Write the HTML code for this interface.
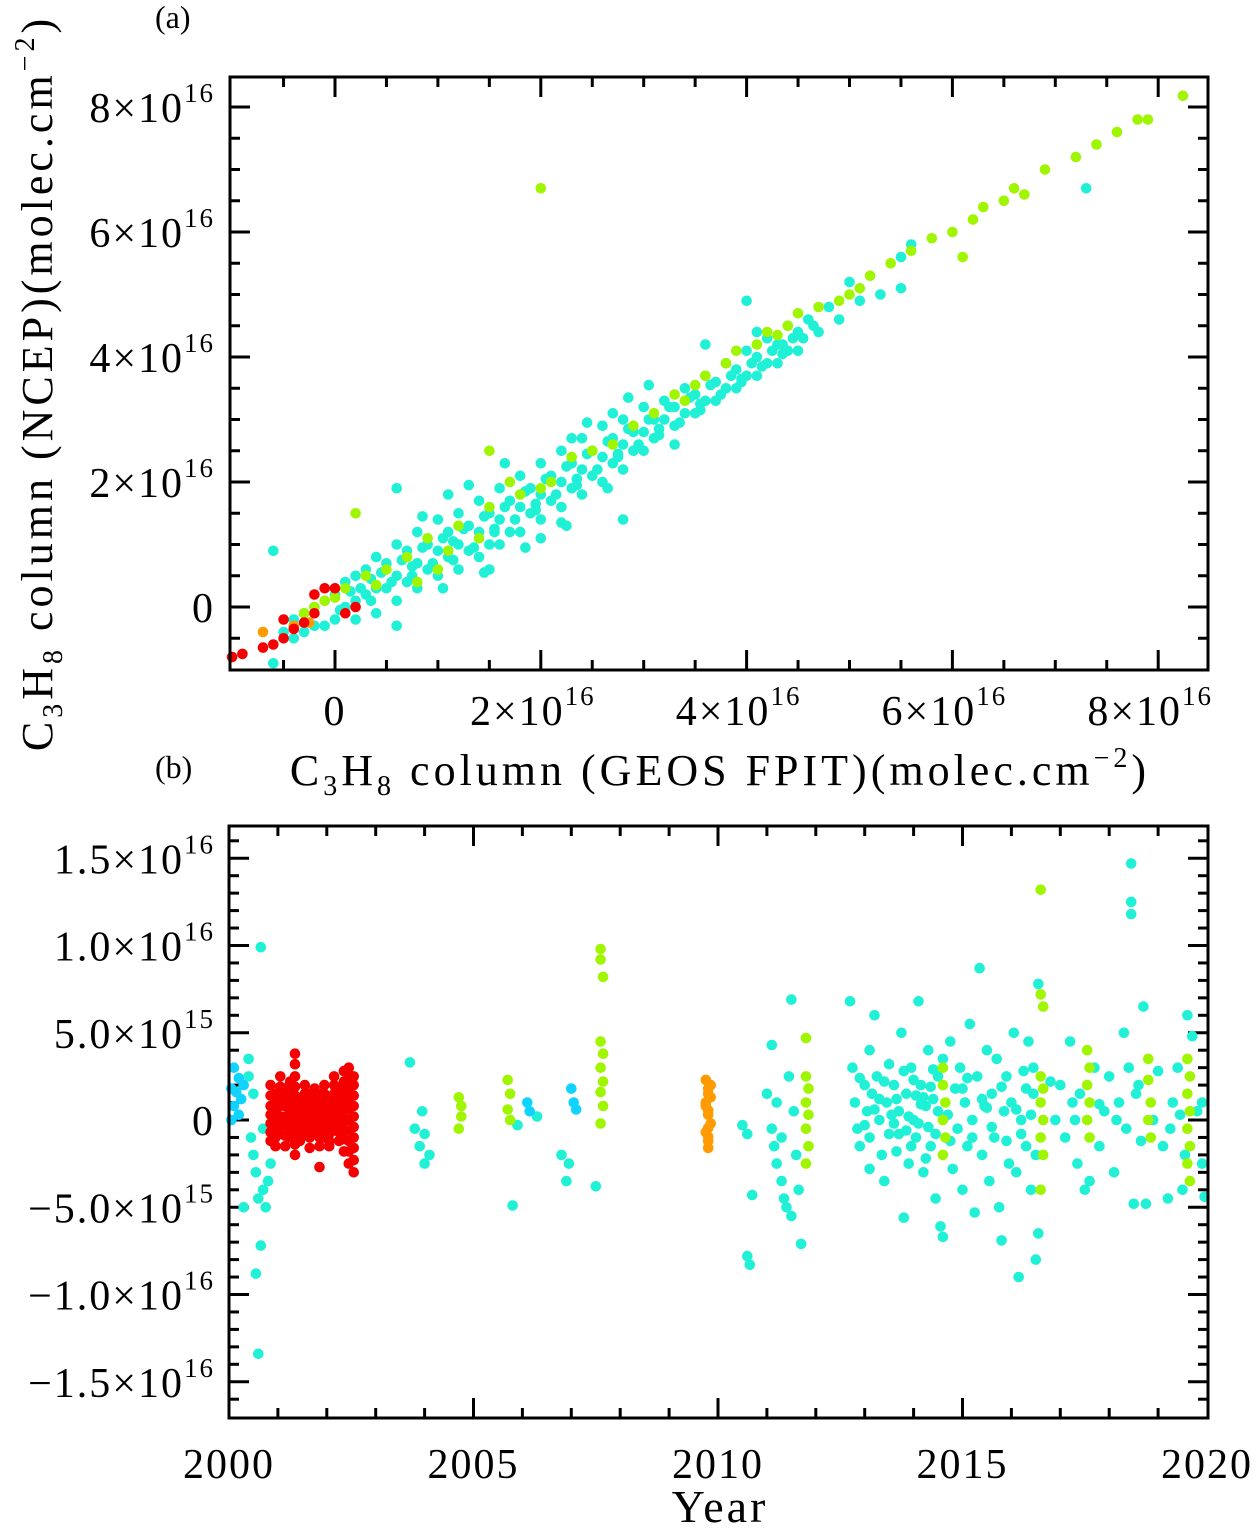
<!DOCTYPE html>
<html><head><meta charset="utf-8"><style>
body{margin:0;background:#fff}
svg text{font-family:"Liberation Serif",serif;fill:#000}
</style></head><body>
<svg id="chart" width="1258" height="1528" viewBox="0 0 1258 1528" xmlns="http://www.w3.org/2000/svg" style="position:absolute;left:0;top:0">
<g id="pa"></g>
<g id="pb"></g>
<text x="155" y="28" font-size="32">(a)</text>
<text x="155" y="778" font-size="32">(b)</text>
<text transform="translate(52,383) rotate(-90)" text-anchor="middle" font-size="44" letter-spacing="4">C<tspan font-size="28" dy="10">3</tspan><tspan dy="-10">H</tspan><tspan font-size="28" dy="10">8</tspan><tspan dy="-10"> column (NCEP)(molec.cm</tspan><tspan font-size="28" dy="-18">−2</tspan><tspan dy="18">)</tspan></text>
<text x="720" y="785" text-anchor="middle" font-size="44" letter-spacing="4">C<tspan font-size="28" dy="10">3</tspan><tspan dy="-10">H</tspan><tspan font-size="28" dy="10">8</tspan><tspan dy="-10"> column (GEOS FPIT)(molec.cm</tspan><tspan font-size="28" dy="-18">−2</tspan><tspan dy="18">)</tspan></text>
<text x="720" y="1522" text-anchor="middle" font-size="46" letter-spacing="3">Year</text>
</svg>
<script>
// Panel (a) data: [GEOS FPIT, NCEP] in 1e16 molec/cm2
const aTicks=[0,2,4,6,8];
const aCyan=[[-0.6,-0.9],[-0.6,0.9],[-0.5,-0.4],[-0.4,-0.2],[-0.4,-0.5],[-0.3,-0.1],[-0.3,-0.4],[-0.2,0.0],[-0.2,-0.3],[-0.1,0.1],[-0.1,-0.3],[0,0.2],[0,-0.2],[0.1,0.4],[0.1,0.0],[0.2,0.5],[0.2,0.1],[0.2,-0.2],[0.3,0.6],[0.3,0.2],[0.4,0.8],[0.4,0.3],[0.4,-0.1],[0.5,0.7],[0.5,0.3],[0.6,1.0],[0.6,0.5],[0.6,0.1],[0.7,0.9],[0.7,0.4],[0.8,1.2],[0.8,0.7],[0.8,0.3],[0.9,1.0],[0.9,0.6],[1.0,1.4],[1.0,0.9],[1.0,0.5],[1.1,1.2],[1.1,0.8],[1.2,1.5],[1.2,1.0],[1.2,0.6],[1.3,1.3],[1.3,0.9],[1.4,1.7],[1.4,1.2],[1.4,0.8],[1.5,1.5],[1.5,1.0],[1.6,1.9],[1.6,1.4],[1.6,1.0],[1.7,1.7],[1.7,1.2],[1.8,2.1],[1.8,1.6],[1.8,1.2],[1.9,1.9],[1.9,1.5],[2.0,2.3],[2.0,1.8],[2.0,1.4],[2.1,2.1],[2.1,1.7],[2.2,2.5],[2.2,2.0],[2.2,1.6],[2.3,2.3],[2.3,1.9],[2.4,2.7],[2.4,2.2],[2.4,1.8],[2.5,2.5],[2.5,2.1],[2.6,2.9],[2.6,2.4],[2.6,2.0],[2.7,2.7],[2.7,2.3],[2.8,3.0],[2.8,2.6],[2.8,2.2],[2.9,2.8],[2.9,2.5],[3.0,3.2],[3.0,2.8],[3.0,2.5],[3.1,3.0],[3.1,2.7],[3.2,3.3],[3.2,3.0],[3.3,3.2],[3.3,2.9],[3.4,3.5],[3.4,3.1],[3.5,3.4],[3.5,3.1],[3.6,3.7],[3.6,3.3],[3.7,3.6],[3.7,3.3],[3.8,3.9],[3.8,3.5],[3.9,3.8],[3.9,3.5],[4.0,4.1],[4.0,3.7],[4.0,4.9],[4.1,4.0],[4.1,3.7],[4.2,4.3],[4.2,3.9],[4.3,4.2],[4.3,3.9],[4.4,4.5],[4.4,4.1],[4.5,4.4],[4.5,4.1],[4.6,4.6],[4.7,4.4],[4.8,4.8],[4.9,4.6],[5.0,5.2],[5.1,4.9],[5.3,5.0],[5.5,5.1],[5.5,5.6],[5.6,5.8],[2.2,1.35],[2.8,1.4],[1.1,1.8],[0.6,1.9],[1.3,1.95],[2.3,2.7],[2.7,3.1],[3.6,4.2],[4.1,4.4],[7.3,6.7],[0.6,-0.3],[1.5,0.6],[2.0,1.1],[3.3,2.6],[0.35,0.45],[0.75,0.65],[1.15,1.05],[1.55,1.25],[1.95,1.65],[2.35,2.05],[2.75,2.45],[3.15,2.85],[3.55,3.25],[3.95,3.65],[4.35,4.05],
[0.05,-0.05],[0.15,0.25],[0.25,0.3],[0.35,0.1],[0.45,0.55],[0.55,0.4],[0.65,0.75],[0.75,0.5],[0.85,0.95],[0.95,0.7],[1.05,1.1],[1.15,0.75],[1.25,1.25],[1.35,0.95],[1.45,1.45],[1.55,1.2],[1.65,1.6],[1.75,1.4],[1.85,1.85],[1.95,1.55],[2.05,2.05],[2.15,1.8],[2.25,2.25],[2.35,1.95],[2.45,2.45],[2.55,2.2],[2.65,2.65],[2.75,2.4],[2.85,2.85],[2.95,2.6],[3.05,3.0],[3.15,2.75],[3.25,3.2],[3.35,2.95],[3.45,3.35],[3.55,3.15],[3.65,3.55],[3.75,3.4],[3.85,3.7],[3.95,3.6],[4.05,3.9],[4.15,3.85],[4.25,4.1],[4.35,4.2],[4.45,4.3],[4.55,4.3],[4.65,4.5],[1.05,0.3],[1.45,0.55],[1.85,0.95],[2.25,1.3],[2.65,1.9],[0.85,1.45],[1.65,2.3],[2.45,2.95],[3.05,3.55],[2.85,3.35]];
const aLime=[[-0.3,-0.1],[-0.2,0.0],[-0.1,0.1],[0.1,0.3],[0.3,0.5],[0.5,0.6],[0.7,0.8],[0.9,1.1],[1.0,0.6],[1.2,1.3],[1.4,1.1],[1.5,1.6],[1.7,2.0],[1.8,1.8],[2.1,2.0],[2.3,2.4],[2.5,2.5],[2.7,2.6],[2.9,2.9],[3.1,3.1],[3.3,3.4],[3.4,3.3],[3.6,3.7],[3.8,3.9],[3.9,4.1],[4.1,4.2],[4.2,4.4],[4.4,4.5],[4.5,4.7],[4.7,4.8],[4.9,4.9],[5.0,5.0],[5.1,5.1],[5.2,5.3],[5.4,5.5],[5.6,5.7],[5.8,5.9],[6.0,6.0],[6.2,6.2],[6.3,6.4],[6.5,6.5],[6.6,6.7],[6.7,6.6],[6.9,7.0],[7.2,7.2],[7.4,7.4],[7.6,7.6],[7.8,7.8],[7.9,7.8],[8.24,8.18],[2.0,6.7],[0.2,1.5],[1.5,2.5],[0.8,0.4],[6.1,5.6],[0.0,0.15],[0.4,0.35],[1.1,0.9],[2.0,1.9],[3.5,3.55],[4.3,4.35]];
const aRed=[[-1.0,-0.8],[-0.9,-0.75],[-0.7,-0.65],[-0.6,-0.6],[-0.5,-0.5],[-0.4,-0.35],[-0.5,-0.2],[-0.3,-0.25],[-0.2,-0.1],[0.1,-0.1],[0.2,0.0],[-0.2,0.2],[-0.1,0.3],[0.0,0.3]];
const aOrange=[[-0.4,-0.3],[-0.25,-0.25],[-0.7,-0.4]];
// Panel (b) data: [year, difference in 1e15 molec/cm2]
const bYTicks=[-15,-10,-5,0,5,10,15];
const bYLabels=["\u22121.5\u00d710","\u22121.0\u00d710","\u22125.0\u00d710","0","5.0\u00d710","1.0\u00d710","1.5\u00d710"];
const bYExp=["16","16","15","","15","16","16"];
const bXTicks=[2000,2005,2010,2015,2020];
const bLightBlue=[[2000.05,0],[2000.1,0.8],[2000.15,1.6],[2000.2,2.4],[2000.1,3],[2000.25,1.2],[2000.05,1.8],[2000.3,2],[2000.2,0.3],[2006.1,1],[2006.15,0.5],[2007.0,1.8],[2007.05,1],[2007.1,0.6]];
const bRedCols=[2000.85,2000.95,2001.05,2001.15,2001.25,2001.35,2001.45,2001.55,2001.65,2001.75,2001.85,2001.95,2002.05,2002.15,2002.25,2002.35,2002.45,2002.55];
const bRedVals=[[2,1.4,0.8,0.3,-0.2,-0.7,-1.2],[1.5,1,0.5,0,-0.5,-1,-1.5],[2.5,1.9,1.3,0.8,0.2,-0.3,-0.8],[1.8,1.3,0.8,0.2,-0.3,-0.9,-1.5],[2.2,1.6,1.1,0.6,0,-0.5,-1],[3.8,3.2,2.5,1.9,1.4,0.8,0.3,-0.3,-0.9,-1.4,-2],[1.2,0.8,0.3,-0.2,-0.7,-1.2],[2,1.5,1,0.5,0,-0.4,-0.8],[1.5,1,0.5,0,-0.5,-1,-1.6],[1.8,1.3,0.8,0.3,-0.2,-0.6],[1.5,1,0.5,0,-0.5,-1,-1.5,-2.7],[2,1.5,1,0.5,0,-0.5,-1],[1.2,0.7,0.2,-0.3,-0.8,-1.2,-1.5],[2.5,2,1.5,1,0.5,0,-0.6],[1.8,1.3,0.8,0.3,-0.2,-0.7,-1.2],[2.8,2.2,1.6,1,0.5,0,-0.5,-1.1,-1.8],[3,2.4,1.8,1.2,0.6,0,-0.6,-1.2,-1.8,-2.5],[2.5,2,1.4,0.8,0.2,-0.4,-1,-1.6,-2.3,-3]];
const bOrange=[[2009.75,2.3],[2009.8,1.8],[2009.85,1.3],[2009.75,0.8],[2009.8,0.3],[2009.85,-0.2],[2009.75,-0.7],[2009.8,-1.2],[2009.8,-1.6],[2009.85,2.0],[2009.75,1.0],[2009.8,1.5],[2009.8,0.55],[2009.8,-0.45],[2009.8,-0.95]];
const bCyan=[[2000.4,3.5],[2000.5,-2],[2000.55,-3],[2000.6,-4.5],[2000.7,-4],[2000.75,-5],[2000.8,-3.5],[2000.65,-7.2],[2000.55,-8.8],[2000.6,-13.4],[2000.65,9.9],[2000.3,-5],[2000.45,-1],[2000.7,-0.5],[2000.85,-2.5],[2000.4,2.5],[2000.5,1.5],[2003.7,3.3],[2003.8,-0.5],[2003.9,-1.5],[2004.0,-2.5],[2004.1,-2],[2004.0,-0.8],[2003.95,0.5],[2005.8,-4.9],[2005.9,-0.3],[2006.3,0.2],[2006.8,-2],[2006.9,-3.5],[2006.95,-2.5],[2007.5,-3.8],[2010.5,-0.3],[2010.6,-0.8],[2010.7,-4.3],[2010.6,-7.8],[2010.65,-8.3],[2011.1,4.3],[2011.0,1.5],[2011.1,-0.5],[2011.15,-1.5],[2011.2,-2.5],[2011.3,-3.5],[2011.35,-4.5],[2011.4,-5],[2011.5,-5.5],[2011.5,6.9],[2011.45,2.5],[2011.55,0.5],[2011.6,-2],[2011.65,-4],[2011.7,-7.1],[2011.3,-1],[2011.2,1],[2012.7,6.8],[2012.75,3],[2012.8,1],[2012.85,-0.5],[2012.9,-1.5],[2013.0,2],[2013.05,0.5],[2013.1,-1],[2013.1,4],[2013.2,6],[2013.25,2.5],[2013.3,0],[2013.35,-2],[2013.4,-3.5],[2013.45,1],[2013.5,3.2],[2013.5,-0.8],[2013.6,2],[2013.65,-1.8],[2013.7,0.5],[2013.75,5],[2013.8,-5.6],[2013.85,1.5],[2013.9,-2.5],[2013.95,3],[2014.0,0],[2014.05,-1],[2014.1,6.8],[2014.15,2],[2014.2,-3],[2014.25,0.8],[2014.3,4],[2014.35,-1.5],[2014.4,1.2],[2014.45,-4.5],[2014.5,2.5],[2014.55,-6.1],[2014.6,-6.7],[2014.7,0.3],[2014.75,4.5],[2014.8,-2.8],[2014.85,1.8],[2014.9,-0.5],[2014.95,3],[2015.0,-4],[2015.05,1],[2015.1,-1.5],[2015.15,5.5],[2015.2,0],[2015.25,-5.3],[2015.3,2.5],[2015.35,8.7],[2015.4,-2],[2015.45,0.8],[2015.5,4],[2015.55,-3.5],[2015.6,1.5],[2015.65,-1],[2015.7,3.5],[2015.75,-5],[2015.8,-6.9],[2015.85,0.5],[2015.9,2.5],[2015.95,-2.5],[2016.0,1],[2016.05,5],[2016.1,-3],[2016.15,-9],[2016.2,0],[2016.25,2.8],[2016.3,-1.5],[2016.35,4.5],[2016.4,-4],[2016.45,1.5],[2016.5,-8],[2016.55,7.8],[2016.55,-6.5],[2016.5,-2],[2016.45,3],[2017.0,2],[2017.1,-1],[2017.2,4.5],[2017.3,0],[2017.35,-2.5],[2017.4,1.5],[2017.5,-4],[2017.7,3],[2017.8,-1.5],[2017.9,0.5],[2018.0,2.5],[2018.1,-3],[2018.2,1],[2018.3,5],[2018.35,-0.5],[2018.4,3],[2018.45,14.7],[2018.45,12.5],[2018.45,11.8],[2018.5,-4.8],[2018.55,1.5],[2018.7,6.5],[2018.75,-4.8],[2018.9,0],[2019.0,2.8],[2019.1,-1.5],[2019.2,-4.5],[2019.3,1],[2019.4,3],[2019.5,-4],[2019.55,-2],[2019.7,4.8],[2019.8,0.5],[2019.9,-2.5],[2019.95,-4.4],[2019.9,1],[2019.6,6],[2018.6,2],[2017.6,-3.5],[2016.9,0],[2016.8,2.2],[2013.15,1.5],[2013.4,2.2],[2013.55,0.3],[2013.65,1.2],[2013.8,2.8],[2013.9,0.2],[2014.0,2.3],[2014.1,-0.2],[2014.2,1.3],[2014.3,-0.4],[2014.4,2.9],[2014.5,0.5],[2013.3,1.2],[2013.7,-0.8],[2013.95,-1.5],[2014.15,0.9],[2015.0,1.8],[2015.2,-1],[2015.5,0.7],[2015.8,1.9],[2016.1,0.6],[2016.3,1.8],[2012.9,2.4],[2013.1,-2.8],[2014.6,3.5],[2014.25,-2.2],[2013.0,-0.3],[2013.2,0.6],[2013.6,-0.2],[2013.85,-0.6],[2014.05,1.4],[2014.35,1.9],[2014.45,-0.8],[2014.75,-1.2],[2015.1,2.4],[2015.4,1.2],[2015.6,-0.4],[2015.9,-1.2],[2016.2,-0.8],[2016.4,0.3],[2017.25,1],[2017.8,0.9],[2018.15,0],[2018.65,-1.2],[2019.25,-0.5],[2019.45,0.3]];
const bLime=[[2004.7,1.3],[2004.75,0.8],[2004.7,-0.5],[2004.75,0.2],[2005.7,2.3],[2005.75,1.5],[2005.7,0.6],[2005.75,0],[2007.6,9.8],[2007.6,9.2],[2007.65,8.2],[2007.6,4.5],[2007.65,3.8],[2007.6,3],[2007.65,2.2],[2007.6,1.6],[2007.65,0.8],[2007.6,-0.2],[2011.8,4.7],[2011.8,2.5],[2011.85,1.8],[2011.8,1],[2011.85,0.3],[2011.8,-0.5],[2011.85,-1.5],[2011.8,-2.5],[2014.6,3],[2014.6,2],[2014.65,1],[2014.6,0],[2014.65,-1],[2014.6,-2],[2016.6,13.2],[2016.6,7.2],[2016.65,6.5],[2016.6,2.5],[2016.65,1.8],[2016.6,1],[2016.65,0],[2016.6,-1],[2016.65,-2],[2016.6,-4],[2017.55,4],[2017.6,3],[2017.55,2],[2017.6,1],[2017.55,0],[2017.6,-1],[2018.8,3.5],[2018.8,2.3],[2018.85,1],[2018.8,0],[2018.85,-1],[2019.6,3.5],[2019.65,2.5],[2019.6,1.5],[2019.65,0.5],[2019.6,-0.5],[2019.65,-1.5],[2019.6,-2.5],[2019.65,-3.5]];

const NS="http://www.w3.org/2000/svg";
const C={cyan:"#1ff0d6",lime:"#a0f500",red:"#f40000",orange:"#ff9a00",lblue:"#10d4ff"};
function mk(tag,at,parent){const e=document.createElementNS(NS,tag);for(const k in at)e.setAttribute(k,at[k]);parent.appendChild(e);return e;}
const pa=document.getElementById('pa'), pb=document.getElementById('pb');
const A={l:230,r:1208,t:77,b:670};
const ax=v=>335+v*102.9, ay=v=>607-v*62.5;
const B={l:229,r:1208,t:826,b:1418};
const bx=y=>229+(y-2000)*48.9, by=v=>1120-v*17.45;

function box(g,P){const r=mk('rect',{x:P.l,y:P.t,width:P.r-P.l,height:P.b-P.t,fill:'none',stroke:'#000','stroke-width':3},g);

}
function tick(g,x1,y1,x2,y2){const t=mk('line',{x1,y1,x2,y2,stroke:'#000','stroke-width':3},g);

}
function dots(g,pts,fx,fy,col,name){const gg=mk('g',{fill:col},g);


pts.forEach(p=>{const c=mk('circle',{cx:fx(p[0]).toFixed(1),cy:fy(p[1]).toFixed(1),r:5.3},gg);

});}
function label(g,x,y,main,exp,anchor,name){const t=mk('text',{x,y,'font-size':42,'text-anchor':anchor,'letter-spacing':2},g);


t.textContent=main;
if(exp){const s=mk('tspan',{'font-size':27,dy:-20},t);s.textContent=exp;}}

for(let v=-0.5;v<=8.51;v+=0.5){const x=ax(v);if(x<A.l+2||x>A.r-2)continue;const L=Math.abs(v%2)<1e-6?20:10;tick(pa,x,A.b,x,A.b-L);tick(pa,x,A.t,x,A.t+L);}
for(let v=-1;v<=8.51;v+=0.5){const y=ay(v);if(y<A.t+2||y>A.b-2)continue;const L=Math.abs(v%2)<1e-6?20:10;tick(pa,A.l,y,A.l+L,y);tick(pa,A.r,y,A.r-L,y);}
dots(pa,aCyan,ax,ay,C.cyan,'series-cyan-a');
dots(pa,aLime,ax,ay,C.lime,'series-lime-a');
dots(pa,aOrange,ax,ay,C.orange,'series-orange-a');
dots(pa,aRed,ax,ay,C.red,'series-red-a');
box(pa,A);
aTicks.forEach(v=>{ if(v===0){label(pa,ax(0),725,'0','', 'middle','x-tick-label');label(pa,215,622,'0','','end','y-tick-label');}
 else{label(pa,ax(v)-8,725,v+'\u00d710','16','middle','x-tick-label');label(pa,215,ay(v)+15,v+'\u00d710','16','end','y-tick-label');}});

for(let y=2000;y<=2020;y++){const x=bx(y);const L=y%5===0?20:10;if(x>B.l+2&&x<B.r-2){tick(pb,x,B.b,x,B.b-L);tick(pb,x,B.t,x,B.t+L);}}
for(let v=-17;v<=17;v++){const y=by(v);if(y<B.t+2||y>B.b-2)continue;const L=v%5===0?20:10;tick(pb,B.l,y,B.l+L,y);tick(pb,B.r,y,B.r-L,y);}
dots(pb,bCyan,bx,by,C.cyan,'series-cyan-b');
dots(pb,bLightBlue,bx,by,C.lblue,'series-lightblue-b');
const bRed=[];bRedCols.forEach((yr,i)=>bRedVals[i].forEach(v=>bRed.push([yr,v])));
dots(pb,bRed,bx,by,C.red,'series-red-b');
dots(pb,bOrange,bx,by,C.orange,'series-orange-b');
dots(pb,bLime,bx,by,C.lime,'series-lime-b');
box(pb,B);
bYTicks.forEach((v,i)=>label(pb,215,by(v)+15,bYLabels[i],bYExp[i],'end','y-tick-label'));
bXTicks.forEach(y=>label(pb,bx(y),1478,String(y),'','middle','x-tick-label'));
</script>
</body></html>
